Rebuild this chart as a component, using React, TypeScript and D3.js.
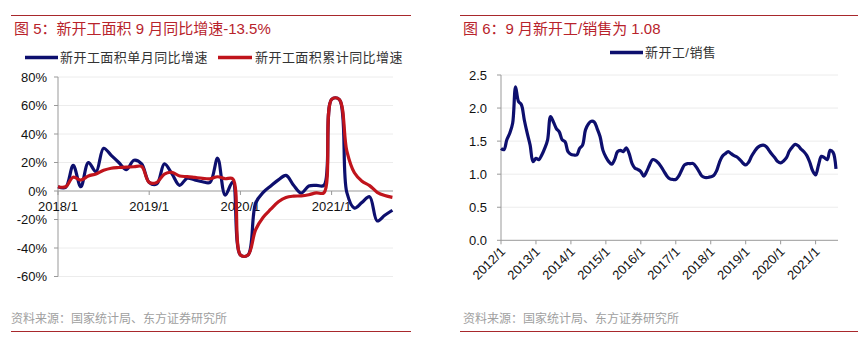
import React from "react";
import * as d3 from "d3";

// ---------- Left chart data (2018/1 .. 2021/9) ----------
const leftTickLabels = ["2018/1", "2019/1", "2020/1", "2021/1"];
const leftTickIndex = [0, 12, 24, 36];
const monthlyYoY = [
  3, 2.5, 18, 3, 20, 13.5, 30, 25, 20, 15, 21.6, 19,
  6, 5, 19, 12, 4, 9, 7.7, 6.5, 6, 23, -3, 6.5,
  -44.9, -44.9, -8.5, -1, 3.5, 7.8, 11, 4, -1.5, 3.5, 4, 4,
  64.3, 64.3, -1, -12, -8, -4, -21, -17, -13.5,
];
const cumulativeYoY = [
  3, 3, 9.7, 7.7, 10.5, 12, 14.5, 16, 16.5, 16.8, 17, 17.2,
  6, 6, 11.9, 13.1, 10.5, 10.1, 9.5, 8.9, 8.6, 10, 8.6, 8.5,
  -44.9, -44.9, -27.2, -18.4, -12.8, -7.6, -4.5, -3.6, -3.4, -2.6, -1.3, -1.2,
  64.3, 64.3, 28.2, 12.8, 6.9, 3.8, -0.9, -3.2, -4.5,
];
const leftYTicks = [80, 60, 40, 20, 0, -20, -40, -60];

// ---------- Right chart data (monthly from 2012/1) ----------
const rightTickLabels = ["2012/1", "2013/1", "2014/1", "2015/1", "2016/1", "2017/1", "2018/1", "2019/1", "2020/1", "2021/1"];
const rightTickIndex = [0, 12, 24, 36, 48, 60, 72, 84, 96, 108];
const startsToSales = [
  1.39, 1.37, 1.52, 1.62, 1.77, 2.32, 2.10, 2.05, 1.82, 1.62, 1.44, 1.19,
  1.24, 1.22, 1.29, 1.39, 1.52, 1.87, 1.79, 1.69, 1.64, 1.52, 1.49, 1.34,
  1.30, 1.29, 1.29, 1.39, 1.44, 1.67, 1.76, 1.80, 1.79, 1.69, 1.57, 1.36,
  1.26, 1.19, 1.15, 1.22, 1.34, 1.36, 1.34, 1.40, 1.31, 1.16, 1.09, 1.07,
  1.04, 0.97, 1.04, 1.14, 1.22, 1.21, 1.17, 1.11, 1.04, 0.97, 0.93, 0.92,
  0.92, 0.97, 1.06, 1.14, 1.16, 1.16, 1.16, 1.11, 1.04, 0.97, 0.95, 0.95,
  0.96, 0.98, 1.05, 1.18, 1.27, 1.31, 1.34, 1.31, 1.28, 1.26, 1.22, 1.17,
  1.14, 1.18, 1.27, 1.34, 1.40, 1.43, 1.44, 1.42, 1.36, 1.30, 1.25, 1.19,
  1.17, 1.20, 1.25, 1.35, 1.41, 1.45, 1.43, 1.38, 1.34, 1.28, 1.18, 1.05,
  0.99, 1.14, 1.27, 1.25, 1.22, 1.36, 1.33, 1.08,
];
const rightYTicks = [2.5, 2.0, 1.5, 1.0, 0.5, 0.0];

const NAVY = "#0d0f6e";
const RED = "#c0141c";
const TITLE_RED = "#b8232b";
const RULE = "#a8282c";
const LATIN = "'Liberation Sans', Arial, 'Noto Sans CJK SC', sans-serif";

export default function App() {
  // Left scales
  const lx = d3.scaleLinear().domain([0, 44]).range([58, 392.4]);
  const ly = d3.scaleLinear().domain([-60, 80]).range([276.5, 77]);
  const leftLine = d3
    .line<number>()
    .x((_, i) => lx(i))
    .y((d) => ly(d))
    .curve(d3.curveCatmullRom.alpha(0.5));

  // Right scales
  const rx = d3.scaleLinear().domain([0, 115]).range([501, 836]);
  const ry = d3.scaleLinear().domain([0, 2.5]).range([240.3, 75]);
  const rightLine = d3
    .line<number>()
    .x((_, i) => rx(i))
    .y((d) => ry(d))
    .curve(d3.curveCatmullRom.alpha(0.5));

  return (
    <svg
      width={866}
      height={341}
      style={{ position: "absolute", left: 0, top: 0, background: "#fff" }}
      fontFamily={LATIN}
    >
      <rect x={0} y={0} width={866} height={341} fill="#fff" />
      {/* top & bottom rules */}
      <line x1={11} x2={411} y1={15.5} y2={15.5} stroke={RULE} strokeWidth={1} />
      <line x1={460} x2={858} y1={15.5} y2={15.5} stroke={RULE} strokeWidth={1} />
      <line x1={11} x2={411} y1={331.5} y2={331.5} stroke={RULE} strokeWidth={1} />
      <line x1={460} x2={858} y1={331.5} y2={331.5} stroke={RULE} strokeWidth={1} />

      {/* titles */}
      <text x={14} y={34} fontSize={15} fill={TITLE_RED}>
        图 5：新开工面积 9 月同比增速-13.5%
      </text>
      <text x={463} y={34} fontSize={15} fill={TITLE_RED}>
        图 6：9 月新开工/销售为 1.08
      </text>

      {/* sources */}
      <text x={11} y={323} fontSize={12} fill="#a0a0a0">
        资料来源：国家统计局、东方证券研究所
      </text>
      <text x={463} y={323} fontSize={12} fill="#a0a0a0">
        资料来源：国家统计局、东方证券研究所
      </text>

      {/* ---------- Left chart ---------- */}
      <g>
        {/* legend */}
        <line x1={25} x2={58} y1={57.5} y2={57.5} stroke={NAVY} strokeWidth={3.5} />
        <text x={60} y={62} fontSize={13} fill="#333" letterSpacing={0.45}>
          新开工面积单月同比增速
        </text>
        <line x1={218} x2={252} y1={57.5} y2={57.5} stroke={RED} strokeWidth={3.5} />
        <text x={255} y={62} fontSize={13} fill="#333" letterSpacing={0.45}>
          新开工面积累计同比增速
        </text>

        {/* gridlines */}
        {leftYTicks.map((t) => (
          <line
            key={"lg" + t}
            x1={lx(0)}
            x2={393}
            y1={ly(t)}
            y2={ly(t)}
            stroke={t === 0 ? "#999" : "#ececec"}
            strokeWidth={1}
          />
        ))}
        {/* y axis */}
        <line x1={lx(0)} x2={lx(0)} y1={ly(80)} y2={ly(-60)} stroke="#999" />
        {leftYTicks.map((t) => (
          <g key={"ly" + t}>
            <line x1={lx(0) - 4} x2={lx(0)} y1={ly(t)} y2={ly(t)} stroke="#999" />
            <text x={47} y={ly(t) + 4.5} fontSize={13} textAnchor="end" fill="#111">
              {t + "%"}
            </text>
          </g>
        ))}
        {/* x ticks */}
        {leftTickIndex.map((ix, k) => (
          <g key={"lx" + ix}>
            <line x1={lx(ix)} x2={lx(ix)} y1={ly(0)} y2={ly(0) + 4} stroke="#999" />
            <text x={lx(ix)} y={ly(0) + 20} fontSize={13} textAnchor="middle" fill="#111">
              {leftTickLabels[k]}
            </text>
          </g>
        ))}
        <path d={leftLine(monthlyYoY) || ""} fill="none" stroke={NAVY} strokeWidth={3.2} strokeLinejoin="round" />
        <path d={leftLine(cumulativeYoY) || ""} fill="none" stroke={RED} strokeWidth={3.2} strokeLinejoin="round" />
      </g>

      {/* ---------- Right chart ---------- */}
      <g>
        <line x1={610} x2={643} y1={52.5} y2={52.5} stroke={NAVY} strokeWidth={3.5} />
        <text x={645} y={57} fontSize={13} fill="#333" letterSpacing={0.45}>
          新开工/销售
        </text>

        {rightYTicks.map((t) => (
          <line
            key={"rg" + t}
            x1={rx(0)}
            x2={838}
            y1={ry(t)}
            y2={ry(t)}
            stroke={t === 0 ? "#999" : "#ececec"}
            strokeWidth={1}
          />
        ))}
        <line x1={rx(0)} x2={rx(0)} y1={ry(2.5)} y2={ry(0)} stroke="#999" />
        {rightYTicks.map((t) => (
          <g key={"ry" + t}>
            <line x1={rx(0) - 4} x2={rx(0)} y1={ry(t)} y2={ry(t)} stroke="#999" />
            <text x={487} y={ry(t) + 4.5} fontSize={13} textAnchor="end" fill="#111">
              {d3.format(".1f")(t)}
            </text>
          </g>
        ))}
        {rightTickIndex.map((ix, k) => (
          <g key={"rx" + ix}>
            <line x1={rx(ix)} x2={rx(ix)} y1={ry(0)} y2={ry(0) + 4} stroke="#999" />
            <text
              transform={`translate(${rx(ix) + 5},${ry(0) + 12}) rotate(-45)`}
              fontSize={13}
              textAnchor="end"
              fill="#111"
            >
              {rightTickLabels[k]}
            </text>
          </g>
        ))}
        <path d={rightLine(startsToSales) || ""} fill="none" stroke={NAVY} strokeWidth={3.2} strokeLinejoin="round" />
      </g>
    </svg>
  );
}
